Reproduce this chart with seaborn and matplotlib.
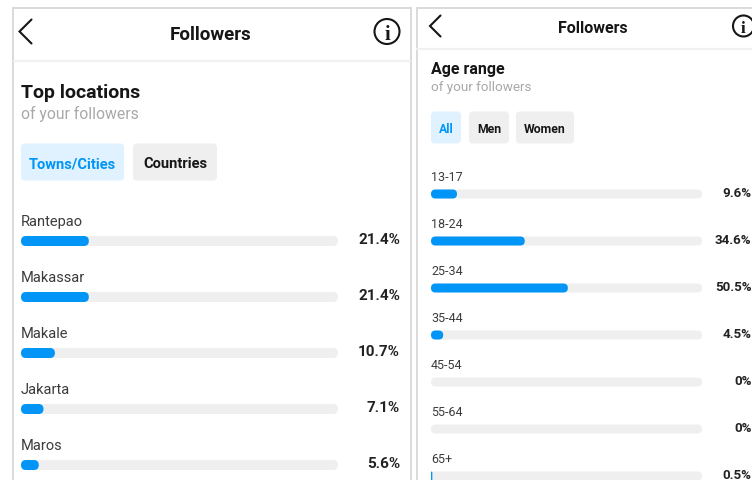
import matplotlib
matplotlib.use("Agg")
import matplotlib.pyplot as plt
from matplotlib.patches import FancyBboxPatch, Circle, Rectangle
import pandas as pd
import seaborn as sns

# Follower breakdowns
cities = ["Rantepao", "Makassar", "Makale", "Jakarta", "Maros"]
city_share = [21.4, 21.4, 10.7, 7.1, 5.6]
ages = ["13-17", "18-24", "25-34", "35-44", "45-54", "55-64", "65+"]
age_share = [9.6, 34.6, 50.5, 4.5, 0, 0, 0.5]
age_labels = ["9.6%", "34.6%", "50.5%", "4.5%", "0%", "0%", "0.5%"]
city_labels = ["21.4%", "21.4%", "10.7%", "7.1%", "5.6%"]

BLUE = "#0095F6"
TRACK = "#EFEFEF"
CHIP_ON = "#E0F1FF"
EDGE = "#DBDBDB"
INK = "#161616"
W, H = 752, 481

sns.set_theme(style="white")
plt.rcParams["font.family"] = ["Roboto", "DejaVu Sans"]

fig = plt.figure(figsize=(W / 100, H / 100), dpi=100, facecolor="white")

# Page layer measured in pixels, y pointing down
page = fig.add_axes([0, 0, 1, 1], zorder=0)
page.set_xlim(0, W)
page.set_ylim(H, 0)
page.axis("off")


def chip(x0, x1, y0, y1, text, on=False, size=10.5):
    page.add_patch(FancyBboxPatch((x0, y0), x1 - x0, y1 - y0,
                                  boxstyle="round,pad=0,rounding_size=4",
                                  fc=CHIP_ON if on else TRACK, ec="none"))
    page.text((x0 + x1) / 2, (y0 + y1) / 2, text, ha="center", va="center_baseline",
              fontsize=size, fontweight="bold", color=BLUE if on else INK)


def header(x_mid, y, divider_y, x0, x1, back_x, back_h, info_x, radius, size):
    page.plot([x0, x1], [divider_y, divider_y], color="#F1F1F1", lw=1.6)
    page.text(x_mid, y, "Followers", ha="center", va="center_baseline",
              fontsize=size, fontweight="bold", color=INK)
    page.plot([back_x + back_h, back_x, back_x + back_h],
              [y - back_h, y, y + back_h], color=INK, lw=1.5,
              solid_joinstyle="miter", clip_on=False)
    page.add_patch(Circle((info_x, y), radius, fc="white", ec=INK, lw=1.5, clip_on=True))
    page.text(info_x, y, "i", ha="center", va="center_baseline",
              fontsize=size + 1, fontweight="bold", color=INK, family="Liberation Serif")


# Panel outlines
page.add_patch(Rectangle((13, 9), 398, 480, fc="white", ec=EDGE, lw=1.4))
page.add_patch(Rectangle((416.5, 9), 350, 480, fc="white", ec=EDGE, lw=1.4))

header(211, 32.5, 61.5, 14, 410, 19.5, 12, 387, 12.5, 13.5)
header(593, 27, 50, 417, 752, 430, 10.5, 743.5, 10.5, 11.5)

page.text(21, 91, "Top locations", va="center_baseline", fontsize=14,
          fontweight="bold", color=INK)
page.text(21, 112.5, "of your followers", va="center_baseline", fontsize=11.3, color="#A8A8A8")
chip(21, 124, 144.5, 181.5, "Towns/Cities", on=True)
chip(133, 217, 144.5, 181.5, "Countries")

page.text(431, 68, "Age range", va="center_baseline", fontsize=11.5, fontweight="bold", color=INK)
page.text(431, 86, "of your followers", va="center_baseline", fontsize=9.7, color="#A8A8A8")
chip(431, 461, 112.5, 144.5, "All", on=True, size=8.8)
chip(469, 509, 112.5, 144.5, "Men", size=8.8)
chip(516, 574, 112.5, 144.5, "Women", size=8.8)


def round_bars(ax, bars, radius_px, px_per_unit_x, px_per_unit_y, **kw):
    # Swap seaborn's square bars for the same extents with rounded corners
    for bar in bars:
        x, y, w, h = bar.get_x(), bar.get_y(), bar.get_width(), bar.get_height()
        bar.remove()
        if w <= 0:
            continue
        r = min(radius_px / px_per_unit_x, w / 2)
        ax.add_patch(FancyBboxPatch((x, y), w, h,
                                    boxstyle=f"round,pad=0,rounding_size={r}",
                                    mutation_aspect=px_per_unit_x / px_per_unit_y,
                                    ec="none", clip_on=False, **kw))


def bar_panel(x0, x1, y0, first_y, step, bar_px, names, shares, labels,
              name_size, value_size, name_gap, value_x, value_dy):
    ax = fig.add_axes([x0 / W, 0, (x1 - x0) / W, (H - y0) / H], zorder=1)
    ax.patch.set_alpha(0)
    frame = pd.DataFrame({"name": names, "share": shares, "full": [100] * len(names)})
    width = bar_px / step
    sns.barplot(frame, x="full", y="name", color=TRACK, saturation=1, width=width, ax=ax)
    tracks = list(ax.patches)
    sns.barplot(frame, x="share", y="name", color=BLUE, saturation=1, width=width, ax=ax)
    fills = [p for p in ax.patches if p not in tracks]
    ax.set_xlim(0, 100)
    ax.set_ylim((H - first_y) / step, (y0 - first_y) / step)
    px_x, px_y = (x1 - x0) / 100, step
    round_bars(ax, tracks, bar_px / 2, px_x, px_y, fc=TRACK, zorder=2)
    round_bars(ax, fills, bar_px / 2, px_x, px_y, fc=BLUE, zorder=3)
    ax.axis("off")
    trans = ax.get_yaxis_transform()
    for i, (name, label) in enumerate(zip(names, labels)):
        ax.text(0, i - name_gap / step, name, va="center_baseline", fontsize=name_size,
                color="#3C3C3C", clip_on=False)
        y_val = i + value_dy / step
        ax.annotate(label, xy=(0, y_val), xycoords=trans, xytext=(value_x, 0),
                    textcoords="offset pixels", ha="right", va="center_baseline",
                    fontsize=value_size, fontweight="bold", color="#222222",
                    annotation_clip=False)


bar_panel(21, 338, 200, 242, 56, 10, cities, city_share, city_labels,
          10.5, 11, 21.5, 379, -3)
bar_panel(431, 702, 160, 195, 47, 9, ages, age_share, age_labels,
          9, 9.6, 18.5, 320.5, -3)

fig.savefig("out.png", dpi=100)
